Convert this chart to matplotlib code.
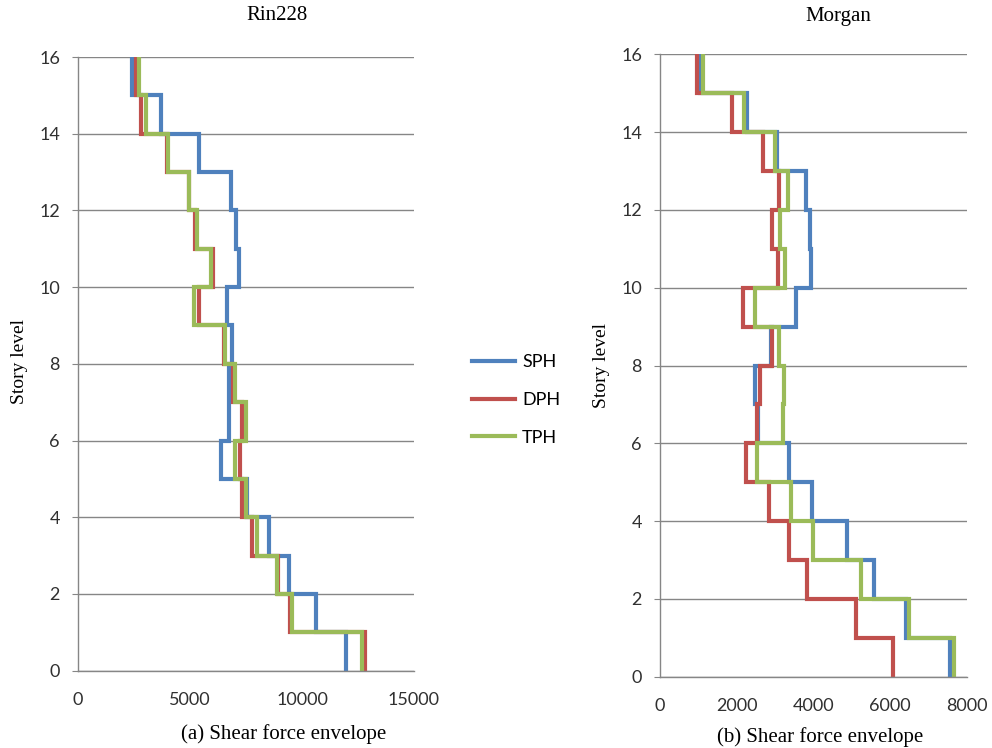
import numpy as np
import matplotlib
matplotlib.use("Agg")
import matplotlib.pyplot as plt

# Story index (story i spans level i to i+1)
levels = np.arange(0, 17)

# Rin228 shear force envelope per story (story 0..15)
rin_sph = [11950, 10640, 9400, 8540, 7550, 6400, 6730, 6730, 6880, 6650, 7180, 7040, 6820, 5420, 3720, 2390]
rin_dph = [12820, 9470, 8950, 7790, 7300, 7250, 7330, 6920, 6500, 5420, 6020, 5240, 4950, 3980, 2820, 2570]
rin_tph = [12670, 9550, 8900, 7970, 7480, 7000, 7480, 7000, 6550, 5200, 5950, 5320, 4970, 4020, 3050, 2720]

# Morgan shear force envelope per story (story 0..15)
mor_sph = [7566, 6409, 5565, 4870, 3957, 3365, 2560, 2478, 2887, 3539, 3939, 3913, 3809, 3044, 2261, 1044]
mor_dph = [6061, 5105, 3826, 3365, 2852, 2243, 2540, 2609, 2931, 2174, 3087, 2913, 3113, 2696, 1887, 957]
mor_tph = [7652, 6496, 5244, 3983, 3409, 2539, 3217, 3235, 3113, 2478, 3261, 3131, 3348, 3000, 2192, 1130]

series_names = ["SPH", "DPH", "TPH"]
colors = ["#4F81BD", "#C0504D", "#9BBB59"]

W, H = 992, 748
fig = plt.figure(figsize=(W / 100, H / 100), dpi=100)

def ax_rect(x0, y0, x1, y1):
    return [x0 / W, 1 - y1 / H, (x1 - x0) / W, (y1 - y0) / H]

ax1 = fig.add_axes(ax_rect(78, 57, 414, 670.7))
ax2 = fig.add_axes(ax_rect(660, 54.3, 967, 676.7))

tick_font = "Lato"
serif_font = "Liberation Serif"

def step_xy(vals):
    v = np.asarray(vals, dtype=float)
    xs = np.repeat(v, 2)
    ys = np.column_stack([levels[:-1], levels[1:]]).ravel()
    return xs, ys

def style(ax, xmax, xticks):
    ax.set_xlim(0, xmax)
    ax.set_ylim(0, 16)
    ax.set_xticks(xticks)
    ax.set_yticks(np.arange(0, 17, 2))
    ax.grid(axis="y", color="#868686", linewidth=1)
    ax.set_axisbelow(True)
    for s in ["top", "right"]:
        ax.spines[s].set_visible(False)
    for s in ["left", "bottom"]:
        ax.spines[s].set_color("#868686")
        ax.spines[s].set_linewidth(1)
    ax.tick_params(axis="x", length=0, pad=15)
    ax.tick_params(axis="y", length=4, color="#868686", pad=9, direction="out")
    for lab in ax.get_xticklabels() + ax.get_yticklabels():
        lab.set_fontfamily(tick_font)
        lab.set_fontsize(13)
        lab.set_color("#303030")

for ax, data in [(ax1, [rin_sph, rin_dph, rin_tph]), (ax2, [mor_sph, mor_dph, mor_tph])]:
    for vals, c, name in zip(data, colors, series_names):
        xs, ys = step_xy(vals)
        ax.plot(xs, ys, color=c, linewidth=3, label=name, solid_joinstyle="miter")

style(ax1, 15000, [0, 5000, 10000, 15000])
style(ax2, 8000, [0, 2000, 4000, 6000, 8000])

# Titles and captions
fig.text(277 / W, 1 - 16 / H, "Rin228", ha="center", va="center", fontfamily=serif_font, fontsize=15)
fig.text(838 / W, 1 - 16 / H, "Morgan", ha="center", va="center", fontfamily=serif_font, fontsize=15)
fig.text(284 / W, 1 - 734 / H, "(a) Shear force envelope", ha="center", va="center", fontfamily=serif_font, fontsize=15)
fig.text(820 / W, 1 - 737 / H, "(b) Shear force envelope", ha="center", va="center", fontfamily=serif_font, fontsize=15)
fig.text(20 / W, 1 - 362 / H, "Story level", ha="center", va="center", rotation=90, fontfamily=serif_font, fontsize=14)
fig.text(602 / W, 1 - 365 / H, "Story level", ha="center", va="center", rotation=90, fontfamily=serif_font, fontsize=14)

# Legend
handles, labels = ax1.get_legend_handles_labels()
leg = fig.legend(handles, labels, loc="center", bbox_to_anchor=(516 / W, 1 - 400 / H),
                 frameon=False, prop={"family": tick_font, "size": 13},
                 handlelength=2.4, handletextpad=0.4, labelspacing=1.2)

fig.savefig("out.png", dpi=100)
